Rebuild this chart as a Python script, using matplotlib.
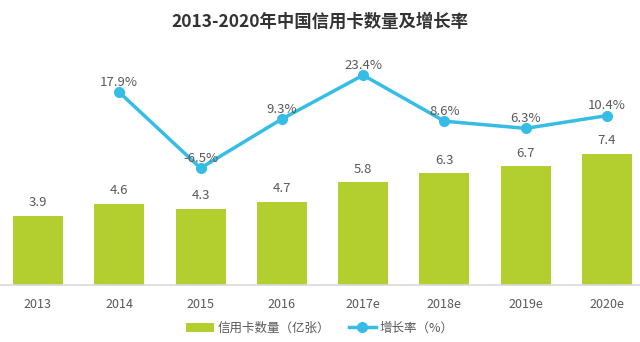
import numpy as np
import matplotlib.pyplot as plt

plt.rcParams['font.family'] = ['Noto Sans CJK SC', 'DejaVu Sans']

years = ['2013', '2014', '2015', '2016', '2017e', '2018e', '2019e', '2020e']
cards = [3.9, 4.6, 4.3, 4.7, 5.8, 6.3, 6.7, 7.4]
growth_years = ['2014', '2015', '2016', '2017e', '2018e', '2019e', '2020e']
growth = [17.9, -6.5, 9.3, 23.4, 8.6, 6.3, 10.4]

bar_color = '#b2cf2f'
line_color = '#35bde6'
text_color = '#595959'

fig = plt.figure(figsize=(6.4, 3.42), dpi=100)
ax = fig.add_axes([0, 1 - 285 / 342, 1, (285 - 40) / 342])

x = np.arange(len(years))
ax.bar(x, cards, width=0.615, color=bar_color, label='信用卡数量（亿张）', zorder=2)
for xi, v in zip(x, cards):
    ax.annotate('%.1f' % v, (xi, v), xytext=(0, 9.5), textcoords='offset points',
                ha='center', va='center', fontsize=9.5, color=text_color)

ax.set_xlim(-0.467, 7.406)
ax.set_ylim(0, 13.84)
ax.set_xticks(x)
ax.set_xticklabels(years, fontsize=9, color=text_color)
ax.tick_params(axis='x', length=0, pad=9)
ax.set_yticks([])
for s in ['top', 'left', 'right']:
    ax.spines[s].set_visible(False)
ax.spines['bottom'].set_color('#d9d9d9')
ax.spines['bottom'].set_linewidth(1.2)

ax2 = ax.twinx()
gx = [years.index(y) for y in growth_years]
ax2.plot(gx, growth, '-o', color=line_color, linewidth=2.5, markersize=7,
         label='增长率（%）', zorder=3)
for xi, v in zip(gx, growth):
    ax2.annotate('%.1f%%' % v, (xi, v), xytext=(0, 7), textcoords='offset points',
                 ha='center', va='center', fontsize=9.5, color=text_color)
ax2.set_ylim(-44.05, 34.7)
ax2.set_yticks([])
for s in ['top', 'left', 'right', 'bottom']:
    ax2.spines[s].set_visible(False)

fig.text(0.5, 1 - 22 / 342, '2013-2020年中国信用卡数量及增长率', ha='center', va='center',
         fontsize=12.5, fontweight='bold', color='#333333')

h1, l1 = ax.get_legend_handles_labels()
h2, l2 = ax2.get_legend_handles_labels()
fig.legend(h1 + h2, l1 + l2, loc='center', bbox_to_anchor=(0.5, 1 - 328 / 342), ncol=2,
           frameon=False, fontsize=9, labelcolor=text_color, handlelength=2.2,
           handletextpad=0.3, columnspacing=1.5)

fig.savefig('out.png', dpi=100)
